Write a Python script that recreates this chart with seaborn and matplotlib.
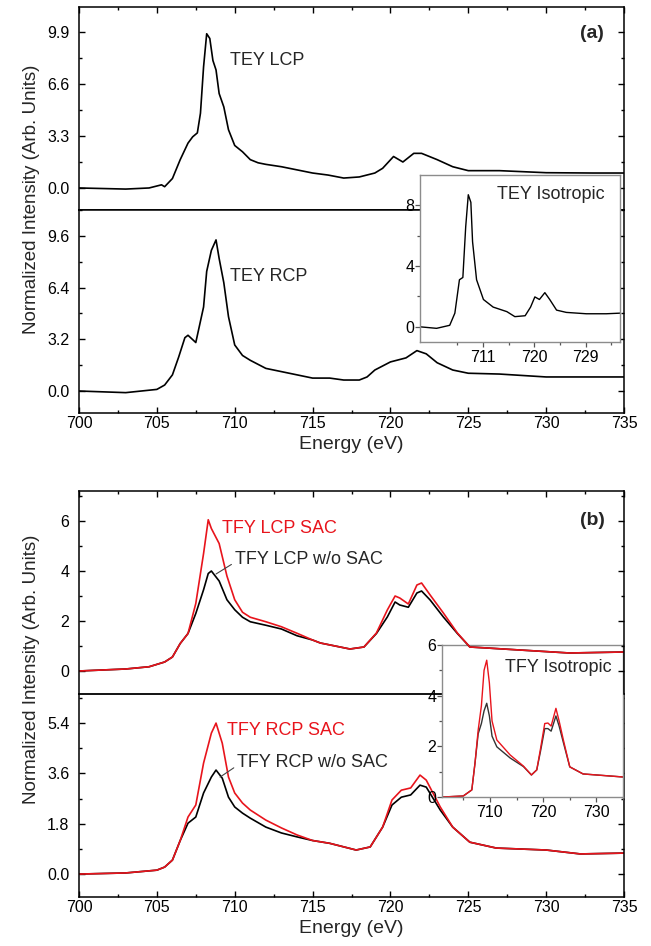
import matplotlib
matplotlib.use("Agg")
import matplotlib.pyplot as plt
from matplotlib.ticker import MultipleLocator, FixedLocator
import seaborn as sns

sns.set_style("ticks")
plt.rcParams['font.family'] = ['Liberation Sans', 'DejaVu Sans']

# ---- (a) TEY spectra ----
e_tey_lcp = [700, 703, 704.5, 705.3, 705.5, 706, 706.5, 707, 707.3, 707.6, 707.8, 708.0, 708.2,
             708.4, 708.6, 708.8, 709.0, 709.3, 709.6, 710, 710.5, 711, 711.5, 712, 713, 714,
             715, 716, 717, 718, 719, 719.5, 720.2, 720.8, 721.5, 722, 722.5, 723, 724, 725,
             727, 730, 733, 735]
tey_lcp = [0, -0.07, 0, 0.2, 0.08, 0.6, 1.8, 2.85, 3.25, 3.5, 4.75, 7.7, 9.8,
           9.5, 8.1, 7.5, 6.0, 5.15, 3.7, 2.7, 2.3, 1.8, 1.6, 1.5, 1.35, 1.15,
           0.95, 0.82, 0.63, 0.7, 0.95, 1.25, 2.0, 1.65, 2.2, 2.2, 2.0, 1.8, 1.35, 1.1,
           1.1, 0.97, 0.95, 0.95]

e_tey_rcp = [700, 703, 705, 705.5, 706, 706.4, 706.8, 707.0, 707.5, 708.0, 708.2, 708.5, 708.8,
             709.0, 709.3, 709.6, 710, 710.5, 711, 712, 713, 714, 715, 716.1, 717, 718, 718.5,
             719, 720, 721, 721.7, 722.3, 723, 724, 725, 727, 730, 735]
tey_rcp = [0, -0.1, 0.1, 0.37, 1.0, 2.1, 3.3, 3.45, 3.0, 5.2, 7.4, 8.7, 9.35,
           8.2, 6.7, 4.6, 2.85, 2.2, 1.9, 1.4, 1.2, 1.0, 0.8, 0.8, 0.68, 0.68, 0.87,
           1.3, 1.8, 2.05, 2.5, 2.3, 1.75, 1.3, 1.1, 1.05, 0.87, 0.87]

e_tey_iso = [700, 702.9, 705.2, 706.1, 706.9, 707.5, 708.0, 708.45, 708.9, 709.2, 709.9, 711.1,
             712.8, 715.2, 716.6, 718.4, 719.35, 720.1, 720.9, 721.85, 722.7, 723.9, 725.6,
             729.1, 732.6, 735]
tey_iso = [0, -0.1, 0.1, 0.9, 3.1, 3.25, 6.6, 8.7, 8.2, 5.6, 3.1, 1.8,
           1.3, 1.0, 0.67, 0.73, 1.3, 1.97, 1.8, 2.25, 1.8, 1.1, 0.95,
           0.86, 0.86, 0.9]

# ---- (b) TFY spectra ----
e_tfy_lcp = [700, 703, 704.5, 705.5, 706, 706.5, 707, 707.5, 708.0, 708.3, 708.5, 709, 709.5,
             710, 710.5, 711, 712, 713, 714, 715, 715.5, 717.4, 718.3, 719.1, 719.8, 720.3,
             720.6, 721.15, 721.7, 722.0, 722.55, 723.4, 724.3, 725.1, 726.2, 728.3, 731.5, 735]
tfy_lcp_sac = [0, 0.08, 0.17, 0.36, 0.56, 1.1, 1.5, 2.7, 4.7, 6.05, 5.7, 5.1, 3.8,
               2.85, 2.35, 2.15, 1.97, 1.77, 1.51, 1.24, 1.12, 0.88, 0.96, 1.52, 2.44, 3.0,
               2.92, 2.68, 3.44, 3.52, 3.04, 2.32, 1.52, 0.96, 0.92, 0.84, 0.72, 0.76]
tfy_lcp_raw = [0, 0.08, 0.17, 0.36, 0.56, 1.1, 1.5, 2.3, 3.25, 3.9, 4.0, 3.6, 2.85,
               2.45, 2.15, 1.97, 1.83, 1.68, 1.41, 1.24, 1.12, 0.88, 0.96, 1.5, 2.16, 2.76,
               2.64, 2.55, 3.12, 3.2, 2.84, 2.16, 1.5, 0.96, 0.92, 0.84, 0.72, 0.76]

e_tfy_rcp = [700, 703, 705, 705.5, 706, 706.5, 707, 707.5, 708, 708.5, 708.8, 709.2, 709.6,
             710, 710.5, 711, 712, 713, 714, 715, 716.1, 717.8, 718.7, 719.5, 720.1, 720.7,
             721.3, 721.9, 722.3, 723.2, 724.0, 725.1, 726.8, 730, 732.2, 735]
tfy_rcp_sac = [0, 0.04, 0.14, 0.25, 0.5, 1.2, 2.04, 2.47, 3.97, 5.04, 5.4, 4.68, 3.47,
               2.9, 2.54, 2.29, 1.93, 1.65, 1.4, 1.2, 1.1, 0.86, 0.97, 1.68, 2.65, 3.0,
               3.08, 3.54, 3.36, 2.4, 1.68, 1.14, 0.93, 0.86, 0.72, 0.75]
tfy_rcp_raw = [0, 0.04, 0.14, 0.25, 0.5, 1.2, 1.82, 2.04, 2.9, 3.47, 3.72, 3.43, 2.75,
               2.4, 2.18, 2.0, 1.68, 1.47, 1.33, 1.2, 1.1, 0.86, 0.97, 1.68, 2.47, 2.75,
               2.83, 3.18, 3.11, 2.29, 1.68, 1.14, 0.93, 0.86, 0.72, 0.75]

e_tfy_iso = [701.2, 705, 706.6, 707.2, 707.8, 708.4, 708.9, 709.4, 709.9, 710.4, 711.3, 713.8,
             716.3, 717.8, 718.8, 719.5, 720.3, 720.9, 721.5, 722.4, 723.0, 723.8, 725.0,
             727.5, 730, 735]
tfy_iso_sac = [0, 0.04, 0.28, 1.34, 2.65, 3.6, 5.0, 5.4, 4.5, 3.0, 2.25, 1.66,
               1.22, 0.87, 1.07, 1.9, 2.9, 2.92, 2.8, 3.5, 3.0, 2.25, 1.19,
               0.91, 0.87, 0.79]
tfy_iso_raw = [0, 0.04, 0.28, 1.34, 2.5, 2.9, 3.4, 3.7, 3.2, 2.4, 1.98, 1.54,
               1.2, 0.87, 1.07, 1.8, 2.7, 2.7, 2.6, 3.2, 2.8, 2.15, 1.19,
               0.91, 0.87, 0.79]

RED = "#e8141c"

fig = plt.figure(figsize=(6.51, 9.46), dpi=100)
L, W, H = 79 / 651, 545 / 651, 203 / 946
ax_a1 = fig.add_axes([L, 1 - 210 / 946, W, H])
ax_a2 = fig.add_axes([L, 1 - 413 / 946, W, H])
ax_b2 = fig.add_axes([L, 1 - 897 / 946, W, H])
ins_a = fig.add_axes([420 / 651, 1 - 342 / 946, 200 / 651, 167 / 946])
ins_b = fig.add_axes([442 / 651, 1 - 797 / 946, 181 / 651, 152 / 946])
ax_b1 = fig.add_axes([L, 1 - 694 / 946, W, H])
ax_b1.set_zorder(5)
ax_b1.patch.set_visible(False)


def outer_style(ax, top, ylim, step):
    ax.set_xlim(700, 735)
    ax.set_ylim(*ylim)
    ax.xaxis.set_major_locator(MultipleLocator(5))
    ax.xaxis.set_minor_locator(MultipleLocator(2.5))
    ax.yaxis.set_major_locator(MultipleLocator(step))
    ax.yaxis.set_minor_locator(MultipleLocator(step / 2))
    ax.yaxis.set_major_formatter(plt.FormatStrFormatter('%.1f' if step % 1 else '%d'))
    for s in ax.spines.values():
        s.set_linewidth(1.1)
        s.set_color("black")
    ax.tick_params(which="both", direction="in", colors="black", labelsize=11.5,
                   left=True, right=True, top=top, bottom=not top,
                   labelbottom=not top, width=1.0)
    ax.tick_params(which="major", length=4)
    ax.tick_params(which="minor", length=2.5)
    ax.tick_params(axis="x", pad=2)
    ax.tick_params(axis="y", pad=7)
    ax.set_xlabel("")
    ax.set_ylabel("")


def inset_style(ax, xlim, ylim, xmaj, xmin, ymaj, ymin):
    ax.set_xlim(*xlim)
    ax.set_ylim(*ylim)
    ax.xaxis.set_major_locator(FixedLocator(xmaj))
    ax.xaxis.set_minor_locator(FixedLocator(xmin))
    ax.yaxis.set_major_locator(FixedLocator(ymaj))
    ax.yaxis.set_minor_locator(FixedLocator(ymin))
    ax.set_facecolor("white")
    for s in ax.spines.values():
        s.set_linewidth(1.0)
        s.set_color("#8c8c8c")
    ax.tick_params(which="both", direction="out", color="#555555", labelcolor="black",
                   labelsize=11.5, width=0.9)
    ax.tick_params(which="major", length=3.5)
    ax.tick_params(which="minor", length=2)
    ax.tick_params(axis="y", pad=0.5)
    ax.tick_params(axis="x", pad=2)
    ax.set_xlabel("")
    ax.set_ylabel("")


# panel (a)
sns.lineplot(x=e_tey_lcp, y=tey_lcp, ax=ax_a1, color="black", linewidth=1.2, sort=False)
sns.lineplot(x=e_tey_rcp, y=tey_rcp, ax=ax_a2, color="black", linewidth=1.2, sort=False)
outer_style(ax_a1, True, (-1.4, 11.5), 3.3)
outer_style(ax_a2, False, (-1.36, 11.2), 3.2)
ax_a1.spines["bottom"].set_linewidth(1.3)
ax_a2.set_xlabel("Energy (eV)", fontsize=14, labelpad=4)
ax_a1.text(709.7, 8.1, "TEY LCP", fontsize=13, va="center")
ax_a1.text(732.2, 9.8, "(a)", fontsize=14, fontweight="bold", va="center")
ax_a2.text(709.7, 7.06, "TEY RCP", fontsize=13, va="center")

sns.lineplot(x=e_tey_iso, y=tey_iso, ax=ins_a, color="black", linewidth=1.0, sort=False)
inset_style(ins_a, (700, 735), (-1.0, 10.0), [711, 720, 729], [706.5, 715.5, 724.5, 733.5],
            [0, 4, 8], [2, 6])
ins_a.text(713.5, 8.74, "TEY Isotropic", fontsize=13, va="center")

# panel (b)
sns.lineplot(x=e_tfy_lcp, y=tfy_lcp_raw, ax=ax_b1, color="black", linewidth=1.2, sort=False)
sns.lineplot(x=e_tfy_lcp, y=tfy_lcp_sac, ax=ax_b1, color=RED, linewidth=1.2, sort=False)
sns.lineplot(x=e_tfy_rcp, y=tfy_rcp_raw, ax=ax_b2, color="black", linewidth=1.2, sort=False)
sns.lineplot(x=e_tfy_rcp, y=tfy_rcp_sac, ax=ax_b2, color=RED, linewidth=1.2, sort=False)
outer_style(ax_b1, True, (-0.92, 7.2), 2)
outer_style(ax_b2, False, (-0.82, 6.44), 1.8)
ax_b1.spines["bottom"].set_visible(False)
ax_b2.spines["top"].set_linewidth(1.3)
ax_b2.set_xlabel("Energy (eV)", fontsize=14, labelpad=4)

ax_b1.text(709.2, 5.72, "TFY LCP SAC", fontsize=13, color=RED, va="center")
ax_b1.annotate("TFY LCP w/o SAC", xy=(708.8, 3.88), xytext=(710.0, 4.48), fontsize=13,
               va="center", arrowprops=dict(arrowstyle="-", color="#444444", lw=0.8,
                                            shrinkA=0, shrinkB=0, relpos=(0, 0.3)))
ax_b1.text(732.2, 6.04, "(b)", fontsize=14, fontweight="bold", va="center")
ax_b2.text(709.5, 5.15, "TFY RCP SAC", fontsize=13, color=RED, va="center")
ax_b2.annotate("TFY RCP w/o SAC", xy=(709.06, 3.47), xytext=(710.15, 4.0), fontsize=13,
               va="center", arrowprops=dict(arrowstyle="-", color="#444444", lw=0.8,
                                            shrinkA=0, shrinkB=0, relpos=(0, 0.3)))

sns.lineplot(x=e_tfy_iso, y=tfy_iso_raw, ax=ins_b, color="#333333", linewidth=1.0, sort=False)
sns.lineplot(x=e_tfy_iso, y=tfy_iso_sac, ax=ins_b, color=RED, linewidth=1.0, sort=False)
inset_style(ins_b, (701, 735), (0, 6), [710, 720, 730], [705, 715, 725, 735],
            [0, 2, 4, 6], [1, 3, 5])
ins_b.text(712.8, 5.1, "TFY Isotropic", fontsize=13, va="center")

fig.text(0.048, 1 - 199 / 946, "Normalized Intensity (Arb. Units)", rotation=90,
         ha="center", va="center", fontsize=13.5)
fig.text(0.048, 1 - 669 / 946, "Normalized Intensity (Arb. Units)", rotation=90,
         ha="center", va="center", fontsize=13.5)

fig.savefig("out.png", dpi=100)
